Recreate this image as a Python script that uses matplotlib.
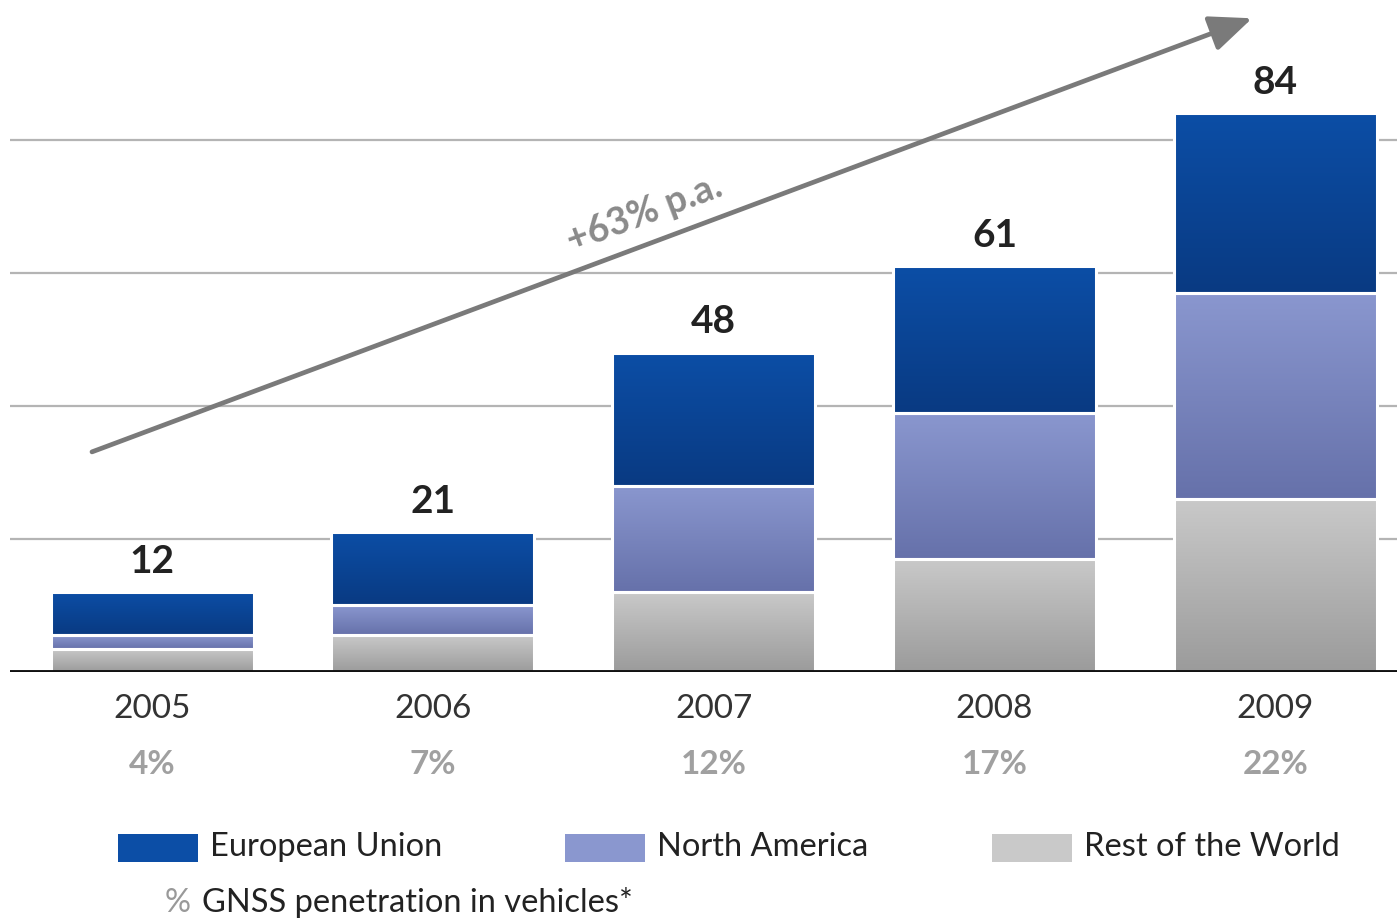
#!/usr/bin/env python3

import matplotlib.pyplot as plt
import numpy as np
from matplotlib.colors import LinearSegmentedColormap
from matplotlib.patches import Rectangle


YEARS = ["2005", "2006", "2007", "2008", "2009"]
PENETRATION = ["4%", "7%", "12%", "17%", "22%"]

# Stacked segments, bottom to top (millions of units)
REST_OF_WORLD = [3.5, 5.5, 12, 17, 26]
NORTH_AMERICA = [2, 4.5, 16, 22, 31]
EUROPEAN_UNION = [6.5, 11, 20, 22, 27]
TOTALS = [12, 21, 48, 61, 84]

GROWTH_LABEL = "+63% p.a."
GRID_VALUES = [20, 40, 60, 80]

SERIES_NAMES = ["European Union", "North America", "Rest of the World"]

# (top colour, bottom colour) for each segment's vertical gradient
EU_COLORS = ("#0c4ea6", "#093a82")
NA_COLORS = ("#8a97cf", "#6671aa")
ROW_COLORS = ("#c9c9c9", "#9b9b9b")

FONT = ["Lato", "DejaVu Sans"]


def gradient_bars(ax, bars, top_color, bottom_color):
    """Fill each bar patch with a vertical gradient."""
    cmap = LinearSegmentedColormap.from_list("seg", [bottom_color, top_color])
    grad = np.linspace(0, 1, 256).reshape(-1, 1)
    for bar in bars:
        x, y = bar.get_xy()
        w, h = bar.get_width(), bar.get_height()
        im = ax.imshow(
            grad,
            cmap=cmap,
            extent=(x, x + w, y, y + h),
            origin="lower",
            aspect="auto",
            interpolation="bilinear",
            zorder=2.5,
        )
        im.set_clip_path(bar)


def main():
    plt.rcParams["font.family"] = FONT

    fig = plt.figure(figsize=(13.97, 9.23), dpi=100)
    W, H = 1397, 923
    ax = fig.add_axes([10 / W, (H - 672) / H, 1387 / W, 672 / H])

    x = np.arange(len(YEARS))
    width = 0.723

    rest = np.array(REST_OF_WORLD, dtype=float)
    na = np.array(NORTH_AMERICA, dtype=float)
    eu = np.array(EUROPEAN_UNION, dtype=float)

    for v in GRID_VALUES:
        ax.axhline(v, color="#b4b4b4", linewidth=1.6, zorder=1)

    segments = [
        (rest, np.zeros_like(rest), ROW_COLORS),
        (na, rest, NA_COLORS),
        (eu, rest + na, EU_COLORS),
    ]
    for values, bottom, (top_c, bot_c) in segments:
        bars = ax.bar(
            x, values, width, bottom=bottom,
            facecolor="none", edgecolor="white", linewidth=2.2, zorder=3,
        )
        gradient_bars(ax, bars, top_c, bot_c)

    for xi, total in zip(x, TOTALS):
        ax.text(xi, total + 2.0, f"{total}", ha="center", va="bottom",
                fontsize=28, fontweight="bold", color="#222222")

    ax.axhline(0, color="#111111", linewidth=2.8, zorder=4)

    for xi, year, pen in zip(x, YEARS, PENETRATION):
        ax.text(xi, -5.6, year, ha="center", va="center",
                fontsize=24, color="#333333", clip_on=False)
        ax.text(xi, -13.9, pen, ha="center", va="center",
                fontsize=24, fontweight="bold", color="#a0a0a0",
                clip_on=False)

    # Growth trend arrow
    ax.annotate(
        "", xy=(3.918, 98.3), xytext=(-0.214, 33.1),
        arrowprops=dict(arrowstyle="-|>,head_length=2.6,head_width=1.1",
                        color="#7a7a7a", linewidth=3.4,
                        shrinkA=0, shrinkB=0),
        zorder=5,
    )
    ax.text(1.755, 68.9, GROWTH_LABEL, ha="center", va="center",
            rotation=20.5, rotation_mode="anchor",
            fontsize=27, fontweight="bold", color="#8a8a8a", zorder=5)

    ax.set_xlim(-0.506, 4.434)
    ax.set_ylim(0, 101.05)
    ax.axis("off")

    # Legend row
    legend_items = [
        (118, SERIES_NAMES[0], EU_COLORS),
        (565, SERIES_NAMES[1], NA_COLORS),
        (992, SERIES_NAMES[2], ROW_COLORS),
    ]
    for px, name, (top_c, bot_c) in legend_items:
        fig.patches.append(Rectangle(
            (px / W, (H - 862) / H), 80 / W, 28 / H,
            transform=fig.transFigure, facecolor=top_c, edgecolor="none",
        ))
        fig.text((px + 92) / W, (H - 847) / H, name, ha="left",
                 va="center", fontsize=23.5, color="#222222")

    fig.text(165 / W, (H - 903) / H, "%", ha="left", va="center",
             fontsize=23.5, color="#999999")
    fig.text(202 / W, (H - 903) / H, "GNSS penetration in vehicles*",
             ha="left", va="center", fontsize=23.5, color="#222222")

    fig.savefig("out.png", dpi=100, facecolor="white")
    plt.close(fig)


if __name__ == "__main__":
    main()
